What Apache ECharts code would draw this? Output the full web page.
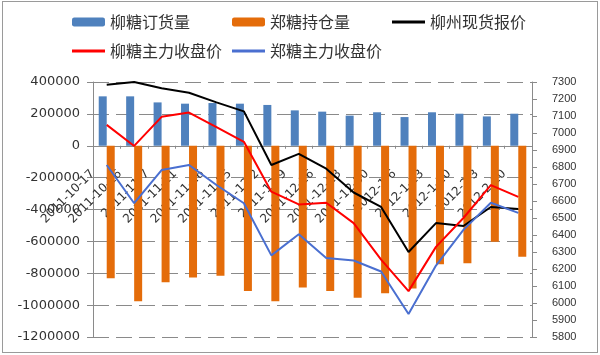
<!DOCTYPE html>
<html>
<head>
<meta charset="utf-8">
<script src="https://cdn.jsdelivr.net/npm/echarts@6/dist/echarts.min.js"></script>
<style>
  body { margin: 0; background: #fff; }
  .chart-box { position: relative; width: 600px; height: 355px; }
  .chart-frame { position: absolute; left: 2px; top: 1px; right: 2px; bottom: 2px; border: 1px solid #9a9a9a; }
  #charts01 { width: 600px; height: 355px; }
</style>
</head>
<body>
<div class="chart-box">
  <div class="chart-frame"></div>
  <div id="charts01"></div>
</div>
<script>
const categories = ['2011-10-17', '2011-10-26', '2011-11-7', '2011-11-11', '2011-11-16', '2011-11-25', '2011-12-2', '2011-12-9',
  '2011-12-16', '2011-12-23', '2011-12-30', '2012-1-6', '2012-1-13', '2012-1-20', '2012-2-3', '2012-2-10']

// 左轴
const liuOrders = [310000, 310000, 272000, 264000, 268000, 264000, 256000, 222000, 214000, 189000, 210000, 180000, 210000, 201000, 184000, 201000]
const zhengHolding = [-832000, -975000, -857000, -826000, -816000, -912000, -975000, -889000, -912000, -954000, -926000, -895000, -744000, -738000, -602000, -696000]

// 右轴
const liuzhouSpot = [7284, 7300, 7263, 7237, 7180, 7127, 6812, 6877, 6790, 6650, 6565, 6300, 6470, 6453, 6565, 6553]
const liuMainClose = [7048, 6924, 7095, 7120, 7035, 6948, 6655, 6580, 6590, 6470, 6255, 6070, 6330, 6500, 6693, 6624]
const zhengMainClose = [6812, 6587, 6782, 6812, 6694, 6587, 6280, 6404, 6265, 6250, 6185, 5935, 6220, 6430, 6590, 6530]

const chartDom = document.getElementById('charts01')
const myChart = echarts.init(chartDom)
const legendText = { fontFamily: 'Noto Sans CJK SC', fontSize: 16, color: '#333' }
const gridColor = '#8a8a8a'
const lineIcon = 'path://M0 0h33v3H0z'

// 分类轴放在左轴 0 的位置
const plotTop = 82
const plotBottom = 337
const zeroY = plotTop + (plotBottom - plotTop) * 400000 / 1600000

const option = {
  animation: false,
  legend: [
    {
      left: 67,
      top: 9,
      itemWidth: 33,
      itemHeight: 9,
      itemGap: 42,
      textStyle: legendText,
      data: ['柳糖订货量', '郑糖持仓量', { name: '柳州现货报价', icon: lineIcon }],
    },
    {
      left: 67,
      top: 38,
      itemWidth: 33,
      itemHeight: 9,
      itemGap: 10,
      textStyle: legendText,
      data: [{ name: '柳糖主力收盘价', icon: lineIcon }, { name: '郑糖主力收盘价', icon: lineIcon }],
    },
  ],
  grid: {
    left: 93,
    right: 68,
    top: plotTop,
    bottom: 355 - plotBottom,
    containLabel: false,
    outerBoundsMode: 'none',
  },
  xAxis: [
    {
      type: 'category',
      data: categories,
      position: 'bottom',
      offset: -(plotBottom - zeroY),
      axisLine: { onZero: false, lineStyle: { color: gridColor } },
      axisTick: { show: true, length: 3, lineStyle: { color: gridColor } },
      axisLabel: {
        interval: 0,
        rotate: 45,
        margin: 12,
        padding: [0, 20, 0, 0],
        fontFamily: 'DejaVu Sans',
        fontSize: 12,
        color: '#333',
      },
    },
  ],
  yAxis: [
    {
      type: 'value',
      min: -1200000,
      max: 400000,
      interval: 200000,
      axisLine: { show: true, lineStyle: { color: gridColor } },
      axisTick: { show: true, length: 6, lineStyle: { color: gridColor } },
      axisLabel: {
        margin: 13,
        fontFamily: 'DejaVu Sans',
        fontSize: 13,
        color: '#333',
        formatter: (v) => String(v),
      },
      splitLine: { lineStyle: { color: gridColor, type: [16, 7] } },
    },
    {
      type: 'value',
      min: 5800,
      max: 7300,
      interval: 100,
      axisLine: { show: true, lineStyle: { color: gridColor } },
      axisTick: { show: true, length: 5, lineStyle: { color: gridColor } },
      axisLabel: {
        margin: 20,
        fontFamily: 'Liberation Sans',
        fontSize: 11,
        color: '#333',
        formatter: (v) => String(v),
      },
      splitLine: { show: false },
    },
  ],
  series: [
    {
      name: '柳糖订货量',
      type: 'bar',
      barWidth: 8,
      barGap: '0%',
      itemStyle: { color: '#4F81BD' },
      data: liuOrders,
    },
    {
      name: '郑糖持仓量',
      type: 'bar',
      barWidth: 8,
      itemStyle: { color: '#E46C0A' },
      data: zhengHolding,
    },
    {
      name: '柳州现货报价',
      type: 'line',
      yAxisIndex: 1,
      symbol: 'none',
      lineStyle: { color: '#000', width: 2 },
      itemStyle: { color: '#000' },
      data: liuzhouSpot,
    },
    {
      name: '柳糖主力收盘价',
      type: 'line',
      yAxisIndex: 1,
      symbol: 'none',
      lineStyle: { color: '#FF0000', width: 2 },
      itemStyle: { color: '#FF0000' },
      data: liuMainClose,
    },
    {
      name: '郑糖主力收盘价',
      type: 'line',
      yAxisIndex: 1,
      symbol: 'none',
      lineStyle: { color: '#4A6FD0', width: 2 },
      itemStyle: { color: '#4A6FD0' },
      data: zhengMainClose,
    },
  ],
}

option && myChart.setOption(option)
</script>
</body>
</html>
